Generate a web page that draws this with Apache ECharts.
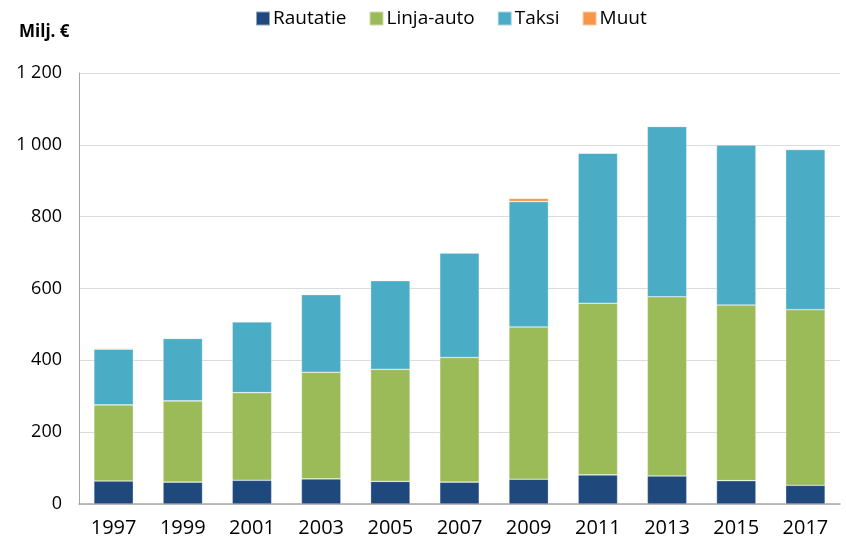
<!DOCTYPE html>
<html>
<head>
<meta charset="utf-8">
<script src="https://cdn.jsdelivr.net/npm/echarts@6/dist/echarts.min.js"></script>
<style>html,body{margin:0;padding:0;background:#fff}#c{width:846px;height:546px}</style>
</head>
<body>
<div id="c"></div>
<script>
var years = ['1997','1999','2001','2003','2005','2007','2009','2011','2013','2015','2017'];
var rautatie = [64,61,66,70,63,61,69,81,78,65,52];
var linjaauto = [212,226,244,297,312,347,424,478,499,489,489];
var taksi = [155,174,197,216,247,291,349,418,474,446,446];
var muut = [2,0,2,2,0,0,9,0,0,0,0];
var yTicks = [0,200,400,600,800,1000,1200];

var font = 'Open Sans, Liberation Sans, sans-serif';
function fmt(v){ return String(v).replace(/\B(?=(\d{3})+(?!\d))/g, ' '); }
function bar(name, data, color){
  return {name:name, type:'bar', stack:'t', data:data, barWidth:'57%',
    itemStyle:{color:color, borderColor:'rgba(255,255,255,0.5)', borderWidth:0.6},
    emphasis:{disabled:true}};
}
var chart = echarts.init(document.getElementById('c'));
chart.setOption({
  animation:false,
  grid:{left:79, right:6, top:73, bottom:42},
  legend:{top:4, left:250, itemWidth:14, itemHeight:14, itemGap:22, icon:'rect',
    textStyle:{fontFamily:font, fontSize:19, color:'#000', padding:[0,0,0,-2]}},
  graphic:[{type:'text', left:19, top:24, style:{text:'Milj. €', fontFamily:font, fontSize:17, fontWeight:'bold', fill:'#000'}}],
  xAxis:{type:'category', data:years,
    axisLine:{lineStyle:{color:'#A6A6A6', width:1.5}}, axisTick:{show:false},
    axisLabel:{fontFamily:font, fontSize:20, color:'#000', margin:14}},
  yAxis:{type:'value', min:0, max:1200, interval:200,
    axisLine:{show:true, lineStyle:{color:'#A6A6A6', width:1}}, axisTick:{show:false},
    splitLine:{lineStyle:{color:'#DCDCDC', width:1.2}},
    axisLabel:{fontFamily:font, fontSize:18, color:'#000', margin:17, formatter:function(v){return fmt(v);}}},
  series:[bar('Rautatie', rautatie, '#1F497D'), bar('Linja-auto', linjaauto, '#9BBB59'),
          bar('Taksi', taksi, '#4BACC6'), bar('Muut', muut, '#F79646')]
});
</script>
</body>
</html>
